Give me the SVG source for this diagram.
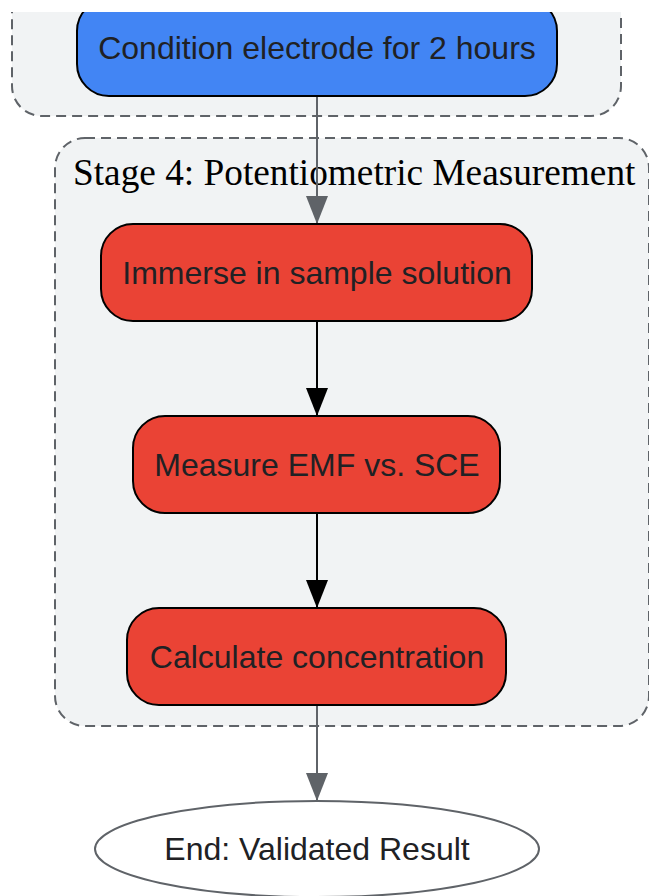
<svg xmlns="http://www.w3.org/2000/svg" width="649" height="896" viewBox="0 0 649 896">
<style>
.cluster{fill:#f1f3f4;stroke:#5f6368;stroke-width:2;stroke-dasharray:10,6}
.node rect{stroke:#000;stroke-width:2}
.lbl{font-family:"Liberation Sans",Arial,sans-serif;font-size:32px;fill:#202124;text-anchor:middle}
.title{font-family:"Liberation Serif","Times New Roman",serif;font-size:37.3px;fill:#000}
.edge-g{stroke:#5f6368;stroke-width:2;fill:none}
.edge-b{stroke:#000;stroke-width:2;fill:none}
</style>
<defs>
<marker id="ab" markerUnits="userSpaceOnUse" viewBox="0 0 22 28" refX="11" refY="28" markerWidth="22" markerHeight="28" orient="0">
<path d="M0,0 L22,0 L11,28 Z" fill="#000"/>
</marker>
<marker id="ag" markerUnits="userSpaceOnUse" viewBox="0 0 22 28" refX="11" refY="28" markerWidth="22" markerHeight="28" orient="0">
<path d="M0,0 L22,0 L11,28 Z" fill="#5f6368"/>
</marker>
</defs>
<rect width="649" height="896" fill="#fff"/>
<g id="cluster-stage3">
<rect class="cluster" x="12" y="-40" width="609" height="156" rx="30"/>
</g>
<g id="cluster-stage4">
<rect class="cluster" x="55" y="138" width="594" height="588" rx="30"/>
<text class="title" x="73" y="185">Stage 4: Potentiometric Measurement</text>
</g>
<g id="connectors">
<path class="edge-g" d="M317,96 L317,224" marker-end="url(#ag)"/>
<path class="edge-b" d="M317,321 L317,416" marker-end="url(#ab)"/>
<path class="edge-b" d="M317,513 L317,608" marker-end="url(#ab)"/>
<path class="edge-g" d="M317,705 L317,801" marker-end="url(#ag)"/>
</g>
<g id="node-condition" class="node">
<rect x="77" y="-1" width="480" height="97" rx="32" fill="#4285f4"/>
<text class="lbl" x="317" y="59">Condition electrode for 2 hours</text>
</g>
<g id="node-immerse" class="node">
<rect x="101" y="224" width="431" height="97" rx="32" fill="#ea4335"/>
<text class="lbl" x="317" y="284">Immerse in sample solution</text>
</g>
<g id="node-measure" class="node">
<rect x="133" y="416" width="367" height="97" rx="32" fill="#ea4335"/>
<text class="lbl" x="317" y="476">Measure EMF vs. SCE</text>
</g>
<g id="node-calculate" class="node">
<rect x="127" y="608" width="379" height="97" rx="32" fill="#ea4335"/>
<text class="lbl" x="317" y="668">Calculate concentration</text>
</g>
<g id="node-end">
<ellipse cx="317" cy="849" rx="222" ry="48" fill="#fff" stroke="#5f6368" stroke-width="2"/>
<text class="lbl" x="317" y="860">End: Validated Result</text>
</g>
<rect x="0" y="0" width="649" height="12" fill="#fff"/>
</svg>
